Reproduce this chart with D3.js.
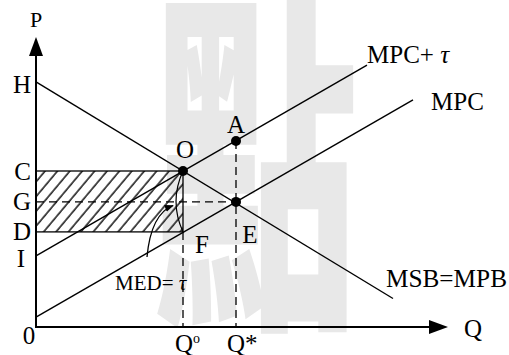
<!DOCTYPE html>
<html>
<head>
<meta charset="utf-8">
<script src="https://cdn.jsdelivr.net/npm/d3@7"></script>
<style>
  html, body { margin: 0; padding: 0; background: #fff; }
  svg { display: block; }
</style>
</head>
<body>
<svg id="chart" width="509" height="355"></svg>
<script>
// curves (Q, P) endpoints
const msbLine = [[0, 81.7], [89.25, 9.5]];
const mpcLine = [[0, 3.3], [94.25, 75.7]];
const mpcTauLine = [[0, 23.7], [82.75, 87.3]];
const curveLabels = ["MSB=MPB", "MPC", "MPC+ "];

// price axis labels
const priceLabels = ["H", "C", "G", "D", "I"];
const priceValues = [81.7, 52, 41.7, 31.7, 23.7];

// quantity axis labels
const qLabels = ["Q", "Q"];
const qValues = [36.75, 50];

// marked points
const pointNames = ["O", "E", "A"];
const pointQ = [36.75, 50, 50];
const pointP = [52, 41.7, 62];
const fPoint = [36.75, 31.7];

const serif = "'Liberation Serif', 'Times New Roman', serif";
const svg = d3.select("#chart");
const x = d3.scaleLinear().domain([0, 100]).range([36, 436]);
const y = d3.scaleLinear().domain([0, 100]).range([327, 27]);
const line = d3.line().x(d => x(d[0])).y(d => y(d[1]));

// watermark
svg.append("text")
  .attr("transform", "translate(256,300) scale(1,1.75)")
  .attr("text-anchor", "middle")
  .attr("font-family", "'Noto Sans CJK TC','Noto Sans CJK SC',sans-serif")
  .attr("font-weight", 900)
  .attr("font-size", "205px")
  .attr("fill", "#e8e8e8")
  .text("點");

// hatch pattern
const defs = svg.append("defs");
defs.append("pattern")
  .attr("id", "hatch")
  .attr("patternUnits", "userSpaceOnUse")
  .attr("width", 9.5).attr("height", 20)
  .attr("patternTransform", "rotate(40)")
  .append("line")
  .attr("x1", 2).attr("y1", 0).attr("x2", 2).attr("y2", 20)
  .attr("stroke", "#222").attr("stroke-width", 1.6);

defs.append("marker")
  .attr("id", "tip")
  .attr("viewBox", "0 0 10 10")
  .attr("refX", 9).attr("refY", 5)
  .attr("markerWidth", 9).attr("markerHeight", 9)
  .attr("markerUnits", "userSpaceOnUse")
  .attr("orient", "auto")
  .append("path").attr("d", "M0,1 L10,5 L0,9 Z").attr("fill", "#000");

// shaded rectangle C-O-F-D
svg.append("rect")
  .attr("x", x(0)).attr("y", y(priceValues[1]))
  .attr("width", x(pointQ[0]) - x(0))
  .attr("height", y(priceValues[3]) - y(priceValues[1]))
  .attr("fill", "url(#hatch)")
  .attr("stroke", "#000").attr("stroke-width", 1.3);

// dashed guides
const dash = "8,5";
svg.append("line")
  .attr("x1", x(0)).attr("x2", x(pointQ[1]))
  .attr("y1", y(pointP[1])).attr("y2", y(pointP[1]))
  .attr("stroke", "#000").attr("stroke-width", 1.3).attr("stroke-dasharray", dash);
svg.append("line")
  .attr("x1", x(qValues[0])).attr("x2", x(qValues[0]))
  .attr("y1", y(fPoint[1])).attr("y2", y(0))
  .attr("stroke", "#000").attr("stroke-width", 1.3).attr("stroke-dasharray", dash);
svg.append("line")
  .attr("x1", x(qValues[1])).attr("x2", x(qValues[1]))
  .attr("y1", y(pointP[2])).attr("y2", y(0))
  .attr("stroke", "#000").attr("stroke-width", 1.3).attr("stroke-dasharray", dash);

// curves
[msbLine, mpcLine, mpcTauLine].forEach(d => {
  svg.append("path").attr("d", line(d))
    .attr("fill", "none").attr("stroke", "#000").attr("stroke-width", 1.4);
});

// bracket between O and F
const ox = x(pointQ[0]), oy = y(pointP[0]), fy = y(fPoint[1]);
svg.append("path")
  .attr("d", `M${ox},${oy} Q${ox - 14},${(oy + fy) / 2} ${ox},${fy}`)
  .attr("fill", "none").attr("stroke", "#000").attr("stroke-width", 1.2);

// MED pointer
svg.append("path")
  .attr("d", `M147,257 Q151,214 ${ox - 10},${y(40.5)}`)
  .attr("fill", "none").attr("stroke", "#000").attr("stroke-width", 1.3)
  .attr("marker-end", "url(#tip)");

// axes
svg.append("line").attr("x1", x(0)).attr("y1", y(0)).attr("x2", x(0)).attr("y2", 50)
  .attr("stroke", "#000").attr("stroke-width", 2);
svg.append("path").attr("d", `M${x(0)},37 L${x(0) + 7},56 L${x(0) - 7},56 Z`).attr("fill", "#000");
svg.append("line").attr("x1", x(0) - 1).attr("y1", y(0)).attr("x2", 435).attr("y2", y(0))
  .attr("stroke", "#000").attr("stroke-width", 2);
svg.append("path").attr("d", `M448,${y(0)} L429,${y(0) - 7} L429,${y(0) + 7} Z`).attr("fill", "#000");

// points
svg.selectAll("circle.pt").data(pointQ).join("circle")
  .attr("class", "pt")
  .attr("cx", d => x(d)).attr("cy", (d, i) => y(pointP[i]))
  .attr("r", 5).attr("fill", "#000");

// labels
const fs = "25px";
const lbl = svg.append("g").attr("font-family", serif).attr("fill", "#000");

lbl.append("text").attr("x", x(0)).attr("y", 27).attr("text-anchor", "middle")
  .attr("font-size", "22px").text("P");
lbl.append("text").attr("x", 473).attr("y", 337).attr("text-anchor", "middle")
  .attr("font-size", fs).text("Q");
lbl.append("text").attr("x", 29).attr("y", 344).attr("text-anchor", "middle")
  .attr("font-size", fs).text("0");

const priceDy = [11, 9, 8, 8, 11];
lbl.selectAll("text.pl").data(priceLabels).join("text")
  .attr("class", "pl")
  .attr("x", (d, i) => i === 4 ? 25 : 31)
  .attr("y", (d, i) => y(priceValues[i]) + priceDy[i])
  .attr("text-anchor", "end")
  .attr("font-size", fs)
  .text(d => d);

// quantity labels
const q0 = lbl.append("text").attr("x", x(qValues[0]) - 8).attr("y", 352).attr("font-size", fs);
q0.append("tspan").text(qLabels[0]);
q0.append("tspan").attr("dy", -9).attr("font-size", "14px").text("o");
lbl.append("text").attr("x", x(qValues[1]) - 9).attr("y", 352).attr("font-size", fs).text(qLabels[1] + "*");

// point labels
const ptDx = [2, 14, 0], ptDy = [-13, 41, -8];
lbl.selectAll("text.pn").data(pointNames).join("text")
  .attr("class", "pn")
  .attr("x", (d, i) => x(pointQ[i]) + ptDx[i])
  .attr("y", (d, i) => y(pointP[i]) + ptDy[i])
  .attr("text-anchor", "middle")
  .attr("font-size", fs)
  .text(d => d);
lbl.append("text").attr("x", x(fPoint[0]) + 19).attr("y", y(fPoint[1]) + 21)
  .attr("text-anchor", "middle").attr("font-size", fs).text("F");

// curve labels
const tauLab = lbl.append("text").attr("x", 367).attr("y", 63).attr("font-size", fs);
tauLab.append("tspan").text(curveLabels[2]);
tauLab.append("tspan").attr("font-style", "italic").text("τ");
lbl.append("text").attr("x", 431).attr("y", 110).attr("font-size", fs).text(curveLabels[1]);
lbl.append("text").attr("x", 386).attr("y", 287).attr("font-size", fs)
  .attr("textLength", 121).attr("lengthAdjust", "spacingAndGlyphs").text(curveLabels[0]);
const med = lbl.append("text").attr("x", 115).attr("y", 290).attr("font-size", "21px");
med.append("tspan").text("MED= ");
med.append("tspan").attr("font-style", "italic").text("τ");
</script>
</body>
</html>
